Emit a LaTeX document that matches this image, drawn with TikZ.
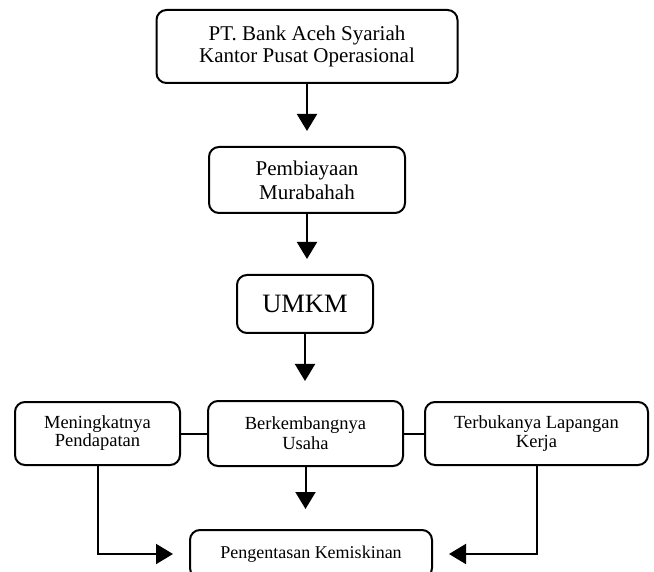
\documentclass[tikz,border=0pt]{standalone}
\usepackage{fontspec}
\setmainfont{Liberation Serif}
\usetikzlibrary{arrows.meta}

\tikzset{
    box/.style={draw, line width=2pt, rounded corners=10pt, align=center, inner sep=0pt},
    flow/.style={line width=2pt, -{Triangle[width=20pt,length=17pt]}},
    link/.style={line width=2pt},
}

\begin{document}
\begin{tikzpicture}[x=1pt, y=-1pt]

    % Marco fijo de la figura
    \useasboundingbox (0,0) rectangle (654,572);

    % --- Columna central ---
    \node[box, minimum width=301pt, minimum height=73pt,
          font=\fontsize{21}{22.3}\selectfont] (bank) at (307,46.5)
        {PT. Bank Aceh Syariah\\Kantor Pusat Operasional};
    \node[box, minimum width=196pt, minimum height=66pt,
          font=\fontsize{21}{24}\selectfont] (murabahah) at (307,180)
        {Pembiayaan\\Murabahah};
    \node[box, minimum width=136pt, minimum height=58pt,
          font=\fontsize{26.5}{28}\selectfont] (umkm) at (305,304) {UMKM};

    % --- Fila de resultados ---
    \node[box, minimum width=165pt, minimum height=63pt,
          font=\fontsize{18.5}{18}\selectfont] (pendapatan) at (97.5,433.5)
        {Meningkatnya\\Pendapatan};
    \node[box, minimum width=195pt, minimum height=65pt,
          font=\fontsize{18.5}{20}\selectfont] (usaha) at (305.5,433.5)
        {Berkembangnya\\Usaha};
    \node[box, minimum width=223pt, minimum height=63pt,
          font=\fontsize{18.5}{19}\selectfont] (kerja) at (536.5,433.5)
        {Terbukanya Lapangan\\Kerja};

    % --- Meta final (cortada por el borde inferior) ---
    \node[box, minimum width=242pt, minimum height=48pt,
          font=\fontsize{18}{20}\selectfont] (kemiskinan) at (311,554)
        {Pengentasan Kemiskinan};

    % Flechas de la columna central
    \draw[flow, shorten >=15pt] (bank.south) -- (bank.south |- murabahah.north);
    \draw[flow, shorten >=15pt] (murabahah.south) -- (murabahah.south |- umkm.north);
    \draw[flow, shorten >=19pt] (umkm.south) -- (umkm.south |- usaha.north);
    \draw[flow, shorten >=20pt] (usaha.south) -- (usaha.south |- kemiskinan.north);

    % Uniones horizontales
    \draw[link] (pendapatan.east) -- (usaha.west);
    \draw[link] (usaha.east) -- (kerja.west);

    % Codos hacia la meta
    \draw[flow, shorten >=16pt] (pendapatan.south) |- (kemiskinan.west);
    \draw[flow, shorten >=16pt] (kerja.south) |- (kemiskinan.east);

\end{tikzpicture}
\end{document}
